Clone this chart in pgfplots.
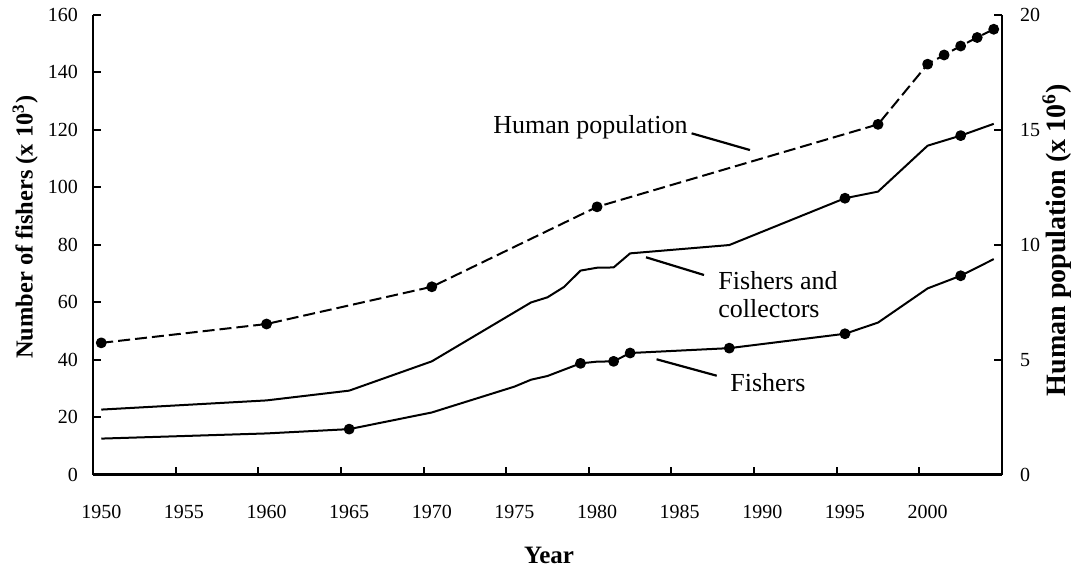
\documentclass[border=0pt]{standalone}
\usepackage{fontspec}
\setmainfont{Liberation Serif}
\usepackage{pgfplots}
\pgfplotsset{compat=1.18}
\usepackage{pgfplotstable}

\pgfplotstableread{
year val
1950 12.5
1955 13.4
1960 14.3
1965 15.8
1970 21.6
1975 30.6
1976 33.0
1977 34.3
1978 36.5
1979 38.7
1980 39.3
1981 39.4
1982 42.3
1988 44.0
1995 49.0
1997 52.9
2000 64.8
2002 69.2
2004 75.0
}\fishers

\pgfplotstableread{
year val
1950 22.6
1955 24.2
1960 25.8
1965 29.2
1970 39.4
1976 59.9
1977 61.7
1978 65.3
1979 71.0
1980 72.0
1981 72.1
1982 77.0
1988 79.9
1995 96.2
1997 98.5
2000 114.5
2002 118.0
2004 122.1
}\collectors

\pgfplotstableread{
year val
1950 5.73
1960 6.55
1970 8.17
1980 11.65
1997 15.24
2000 17.86
2001 18.26
2002 18.65
2003 19.02
2004 19.38
}\population

\begin{document}
\begin{tikzpicture}
\path[use as bounding box] (-46.5pt,-46.75pt) rectangle ++(536pt,284pt);
\pgfplotsset{
  common/.style={
    scale only axis, width=454.5pt, height=229.75pt,
    xmin=1949.5, xmax=2004.5,
    tick align=inside,
    major tick length=4pt,
    axis line style={line width=1.1pt,-},
    every tick/.style={line width=1pt,black},
    ticklabel style={font=\fontsize{10}{12}\selectfont},
    /pgf/number format/assume math mode=true,
    clip=false,
  }
}
\begin{axis}[common,
  ymin=0, ymax=160,
  axis x line*=bottom, axis y line*=left,
  xtick={1949.5,1954.5,...,1999.5},
  xticklabels={1950,1955,1960,1965,1970,1975,1980,1985,1990,1995,2000},
  xticklabel style={anchor=center, xshift=4.13pt, yshift=-18.5pt},
  ytick={0,20,...,160},
  yticklabel style={xshift=-4pt},
]
\addplot[black, line width=1pt, line join=round, mark=*, mark size=2.2pt,
  mark indices={4,10,12,13,14,15,18}] table[x=year,y=val] {\fishers};
\addplot[black, line width=1pt, line join=round, mark=*, mark size=2.2pt,
  mark indices={14,17}] table[x=year,y=val] {\collectors};

\node[anchor=base west, font=\fontsize{13}{15.6}\selectfont, inner sep=0pt] at (axis cs:1973.70,118.75) {Human population};
\draw[line width=1.1pt] (axis cs:1985.72,118.8) -- (axis cs:1989.25,112.98);
\node[anchor=base west, font=\fontsize{13}{15.6}\selectfont, inner sep=0pt] at (axis cs:1987.32,64.25) {Fishers and};
\node[anchor=base west, font=\fontsize{13}{15.6}\selectfont, inner sep=0pt] at (axis cs:1987.32,54.5) {collectors};
\draw[line width=1.1pt] (axis cs:1982.96,75.64) -- (axis cs:1986.47,69.47);
\node[anchor=base west, font=\fontsize{13}{15.6}\selectfont, inner sep=0pt] at (axis cs:1988.04,28.73) {Fishers};
\draw[line width=1.1pt] (axis cs:1983.6,40.12) -- (axis cs:1987.24,34.4);

\node[rotate=90, font=\fontsize{12.2}{14.6}\selectfont\bfseries] at (axis description cs:-0.0745,0.538) {Number of fishers (x 10\textsuperscript{3})};
\node[font=\fontsize{12.5}{15}\selectfont\bfseries] at (axis description cs:0.5017,-0.176) {Year};
\end{axis}
\begin{axis}[common,
  ymin=0, ymax=20,
  axis y line*=right, axis x line=none,
  ytick={0,5,...,20},
  yticklabel style={anchor=west, xshift=5.5pt},
]
\addplot[black, line width=1pt, line join=round, dash pattern=on 6pt off 2.5pt,
  mark=*, mark size=2.2pt, mark options={solid}] table[x=year,y=val] {\population};
\node[rotate=90, font=\fontsize{14}{16.8}\selectfont\bfseries] at (axis description cs:1.0605,0.51) {Human population (x 10\textsuperscript{6})};
\end{axis}
\end{tikzpicture}
\end{document}
